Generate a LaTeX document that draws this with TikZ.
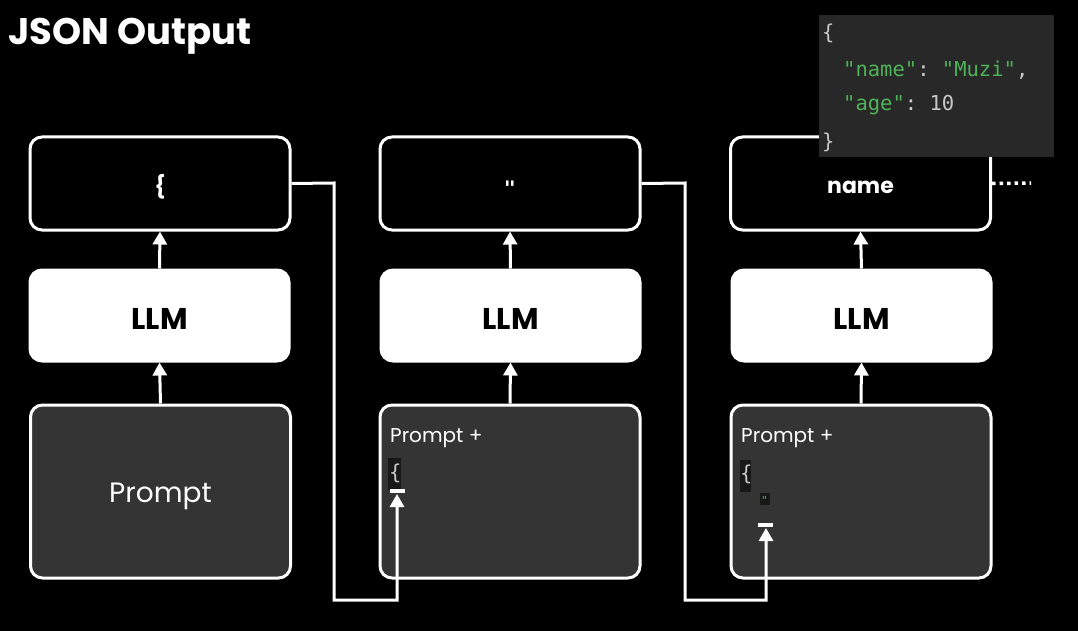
\documentclass[tikz,border=0pt]{standalone}
\usepackage{fontspec}
\setmainfont{Poppins}
\setmonofont{DejaVu Sans Mono}
\usetikzlibrary{arrows.meta,calc}
\definecolor{promptgray}{RGB}{52,52,52}
\definecolor{jsongray}{RGB}{40,40,40}
\definecolor{codegreen}{RGB}{78,178,88}
\definecolor{codegray}{RGB}{200,200,200}
\definecolor{hlgray}{RGB}{24,24,24}
\tikzset{
  outbox/.style={draw=white, line width=3pt, rounded corners=12pt, fill=black,
    minimum width=260pt, minimum height=93pt, inner sep=0pt, text=white,
    font=\bfseries\fontsize{22}{26}\selectfont},
  llmbox/.style={draw=white, line width=3pt, rounded corners=12pt, fill=white,
    minimum width=259pt, minimum height=91pt, inner sep=0pt, text=black,
    font=\bfseries\fontsize{30}{34}\selectfont},
  promptbox/.style={draw=white, line width=3pt, rounded corners=12pt, fill=promptgray,
    minimum width=260pt, minimum height=173pt, inner sep=0pt, text=white,
    font=\fontsize{28}{32}\selectfont},
  uparrow/.style={draw=white, line width=3pt, -{Triangle[width=14pt,length=13pt]}},
  cursorbar/.style={fill=white, minimum width=15pt, minimum height=4pt, inner sep=0pt},
  smalltext/.style={text=white, anchor=west, inner sep=0pt, font=\fontsize{20}{22}\selectfont},
  code/.style={anchor=west, inner sep=0pt, font=\ttfamily\fontsize{20.5}{22}\selectfont},
  label/.style={inner sep=0pt},
}
\begin{document}
\begin{tikzpicture}[x=1pt,y=-1pt]
\fill[black] (0,0) rectangle (1078,631);
\useasboundingbox (0,0) rectangle (1078,631);

% title
\node[anchor=west, inner sep=0pt, text=white, font=\bfseries\fontsize{37}{42}\selectfont] (title) at (8,36) {JSON Output};

% column 1
\node[outbox] (top1) at (160,183.5) {};
\node[llmbox] (llm1) at (159.5,315.5) {};
\node[promptbox] (pr1) at (160.5,491.5) {};
% column 2
\node[outbox] (top2) at (510,183.5) {};
\node[llmbox] (llm2) at (510.5,315.5) {};
\node[promptbox] (pr2) at (510,491.5) {};
% column 3
\node[outbox] (top3) at (860.5,183.5) {};
\node[llmbox] (llm3) at (861.5,315.5) {};
\node[promptbox] (pr3) at (861,491.5) {};

% box labels
\node[label, text=white, font=\bfseries\fontsize{22}{26}\selectfont] (lt1) at (160,187) {\{};
\node[label, anchor=base, text=white, font=\ttfamily\bfseries\fontsize{20}{24}\selectfont] (lt2) at (510,196) {"};
\node[label, text=white, font=\bfseries\fontsize{22}{26}\selectfont] (lt3) at (860.5,187) {name};
\foreach \i in {1,2,3}{
  \node[label, text=black, font=\bfseries\fontsize{30}{34}\selectfont] (ll\i) at ($(llm\i)+(0,3)$) {LLM};
}
\node[label, text=white, font=\fontsize{28}{32}\selectfont] (lp1) at (160.5,496) {Prompt};

% vertical arrows
\foreach \i in {1,2,3}{
  \draw[uparrow] (llm\i.north) -- (top\i.south);
  \draw[uparrow] (pr\i.north) -- (llm\i.south);
}

% prompt contents col 2
\node[smalltext] (pp2) at (390,438) {Prompt +};
\fill[hlgray] (388,458) rectangle (401,490);
\node[code, text=codegray] (br2) at (389,473) {\{};
\node[cursorbar] (cur2) at (397,491) {};

% prompt contents col 3
\node[smalltext] (pp3) at (741,438) {Prompt +};
\fill[hlgray] (740,460) rectangle (751,492);
\node[code, text=codegray] (br3) at (740,474) {\{};
\fill[hlgray] (760,493) rectangle (770,505);
\node[code, text=codegreen, font=\ttfamily\fontsize{11}{12}\selectfont] (q3) at (761,500) {"};
\node[cursorbar] (cur3) at (765.5,525) {};

% feedback connectors
\coordinate (c1a) at (334,183);
\coordinate (c1b) at (334,600);
\coordinate (c1c) at (397,600);
\coordinate (t1) at (397,494);
\draw[uparrow] (top1.east) -- (c1a) -- (c1b) -- (c1c) -- (t1);

\coordinate (c2a) at (685,183);
\coordinate (c2b) at (685,600);
\coordinate (c2c) at (766,600);
\coordinate (t2) at (766,528);
\draw[uparrow] (top2.east) -- (c2a) -- (c2b) -- (c2c) -- (t2);

% continuation dots
\coordinate (dotsend) at (1031,183);
\draw[white, line width=3.5pt, dash pattern=on 3.5pt off 4pt] (top3.east) -- (dotsend);

% JSON sample
\fill[jsongray] (819,15) rectangle (1054,157);
\node[code, text=codegray] (j1) at (822,33) {\{};
\node[code] (j2) at (843,70) {\textcolor{codegreen}{"name"}\textcolor{codegray}{: }\textcolor{codegreen}{"Muzi"}\textcolor{codegray}{,}};
\node[code] (j3) at (843,105) {\textcolor{codegreen}{"age"}\textcolor{codegray}{: 10}};
\node[code, text=codegray] (j4) at (822,142) {\}};
\end{tikzpicture}
\end{document}
